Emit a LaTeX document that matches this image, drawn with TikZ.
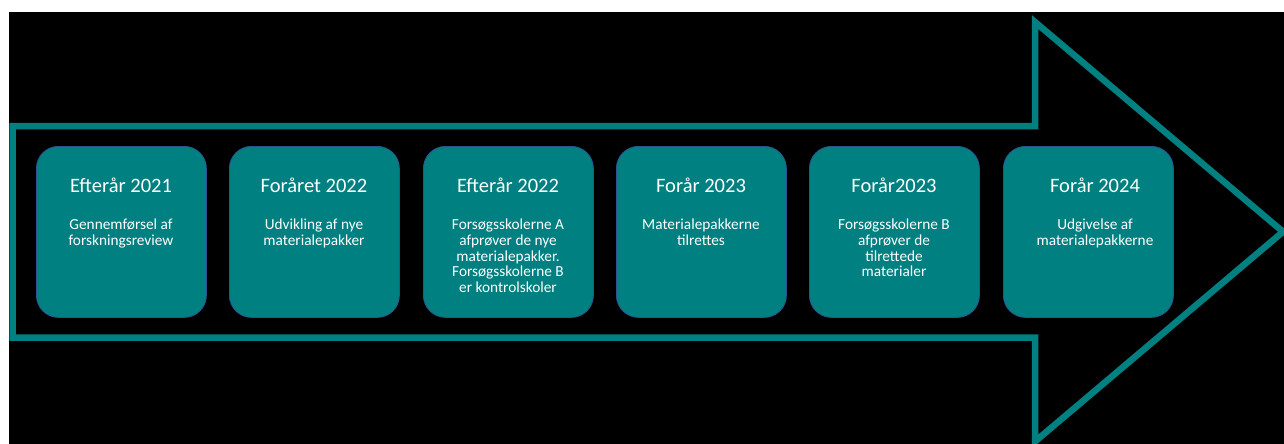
\documentclass[tikz,border=0pt]{standalone}
\usepackage{fontspec}
\setmainfont{Carlito}
\definecolor{teal1}{RGB}{0,128,128}
\definecolor{boxedge}{RGB}{47,82,143}
\begin{document}
\begin{tikzpicture}[x=1pt,y=-1pt,
  stagebox/.style={draw=boxedge,line width=0.8pt,fill=teal1,rounded corners=22pt,minimum width=170pt,minimum height=171pt,inner sep=0pt,anchor=north west},
  titletext/.style={text=white,font=\fontsize{20.5}{22}\selectfont,anchor=base,inner sep=0pt},
  subtext/.style={text=white,font=\fontsize{15.3}{15.6}\selectfont,align=center,anchor=north,inner sep=0pt}]
\useasboundingbox (0,0) rectangle (1284,444);
\fill[white] (0,0) rectangle (1284,444);
\fill[black] (9,12) rectangle (1284,444);
% arrow outline
\draw[teal1,line width=6.5pt,line join=miter] (12.5,126) -- (1035,126) -- (1035,22) -- (1283,231.75) -- (1035,441.5) -- (1035,337.5) -- (12.5,337.5) -- cycle;
% boxes
\node[stagebox] (b1) at (36,146) {};
\node[stagebox] (b2) at (229,146) {};
\node[stagebox] (b3) at (423,146) {};
\node[stagebox] (b4) at (616,146) {};
\node[stagebox] (b5) at (809,146) {};
\node[stagebox] (b6) at (1003,146) {};
% titles
\node[titletext] (t1) at (121,192) {Efterår 2021};
\node[titletext] (t2) at (314,192) {Foråret 2022};
\node[titletext] (t3) at (508,192) {Efterår 2022};
\node[titletext] (t4) at (701,192) {Forår 2023};
\node[titletext] (t5) at (894,192) {Forår2023};
\node[titletext] (t6) at (1095,192) {Forår 2024};
% descriptions
\node[subtext] (s1) at (121,219) {Gennemførsel af\\forskningsreview};
\node[subtext] (s2) at (314,219) {Udvikling af nye\\materialepakker};
\node[subtext] (s3) at (508,219) {Forsøgsskolerne A\\afprøver de nye\\materialepakker.\\Forsøgsskolerne B\\er kontrolskoler};
\node[subtext] (s4) at (701,219) {Materialepakkerne\\tilrettes};
\node[subtext] (s5) at (894,219) {Forsøgsskolerne B\\afprøver de\\tilrettede\\materialer};
\node[subtext] (s6) at (1095,219) {Udgivelse af\\materialepakkerne};
\end{tikzpicture}
\end{document}
